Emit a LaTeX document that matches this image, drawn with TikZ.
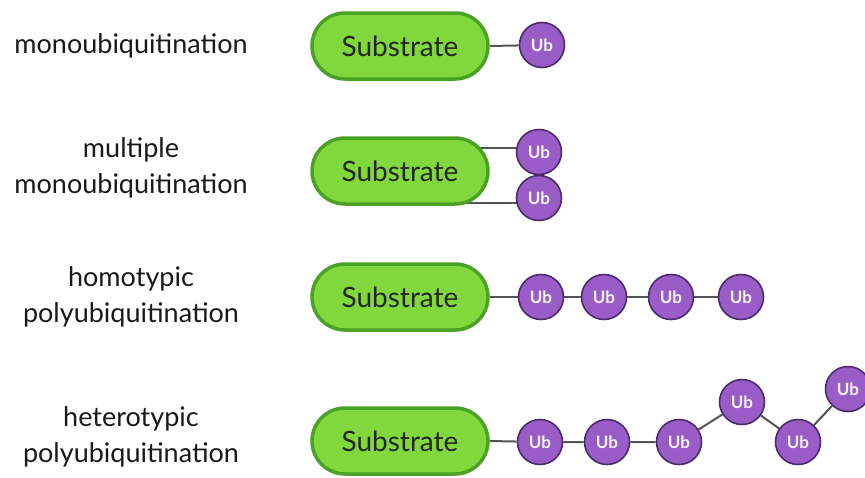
\documentclass[tikz,border=0pt]{standalone}
\usepackage{fontspec}
\setmainfont{Lato}
\usetikzlibrary{shapes.misc,backgrounds}
\definecolor{pillfill}{HTML}{80D83C}
\definecolor{pilldraw}{HTML}{4AA224}
\definecolor{ubfill}{HTML}{9A5DC8}
\definecolor{ubdraw}{HTML}{4A2B6C}
\definecolor{linkcol}{HTML}{555555}
\tikzset{
  pill/.style={rounded rectangle, fill=pillfill, draw=pilldraw, line width=3.5pt,
    minimum width=176pt, minimum height=66pt, inner sep=0pt,
    font=\fontsize{28}{30}\selectfont, text=black!85},
  ub/.style={circle, fill=ubfill, draw=ubdraw, line width=1.6pt, minimum size=45pt,
    inner sep=0pt, font=\fontsize{17}{18}\selectfont\bfseries, text=white!92!ubfill},
  lbl/.style={align=center, font=\fontsize{27}{36}\selectfont, text=black!90},
  link/.style={draw=linkcol, line width=2pt}
}
\begin{document}
\begin{tikzpicture}[x=1pt,y=-1pt]
\useasboundingbox (0,0) rectangle (865,477);
% labels
\node[lbl] (l1) at (131,46) {monoubiquitination};
\node[lbl] (l2) at (131,168) {multiple\\monoubiquitination};
\node[lbl] (l3) at (131,297) {homotypic\\polyubiquitination};
\node[lbl] (l4) at (131,437) {heterotypic\\polyubiquitination};
% row 1
\node[pill] (s1) at (400,46) {Substrate};
\node[ub] (u11) at (542,45) {Ub};
% row 2
\node[pill] (s2) at (400,171) {Substrate};
\node[ub] (u21) at (539,152) {Ub};
\node[ub] (u22) at (539,198) {Ub};
% row 3
\node[pill] (s3) at (400,297) {Substrate};
\node[ub] (u31) at (541,297) {Ub};
\node[ub] (u32) at (604,297) {Ub};
\node[ub] (u33) at (671,297) {Ub};
\node[ub] (u34) at (741,297) {Ub};
% row 4
\node[pill] (s4) at (400,441) {Substrate};
\node[ub] (u41) at (540,442) {Ub};
\node[ub] (u42) at (607,442) {Ub};
\node[ub] (u43) at (679,442) {Ub};
\node[ub] (u44) at (742,402) {Ub};
\node[ub] (u45) at (798,442) {Ub};
\node[ub] (u46) at (848,389) {Ub};
\begin{scope}[on background layer]
\draw[link] (s1.east) -- (u11);
\draw[link] ([yshift=4pt]u21.center -| s2.east) ++(-40,0) -- ([yshift=4pt]u21.center);
\draw[link] ([yshift=-5pt]u22.center -| s2.east) ++(-40,0) -- ([yshift=-5pt]u22.center);
\draw[link] (s3.east) -- (u31) -- (u32) -- (u33) -- (u34);
\draw[link] (s4.east) -- (u41) -- (u42) -- (u43) -- (u44) -- (u45) -- (u46);
\end{scope}
\end{tikzpicture}
\end{document}
